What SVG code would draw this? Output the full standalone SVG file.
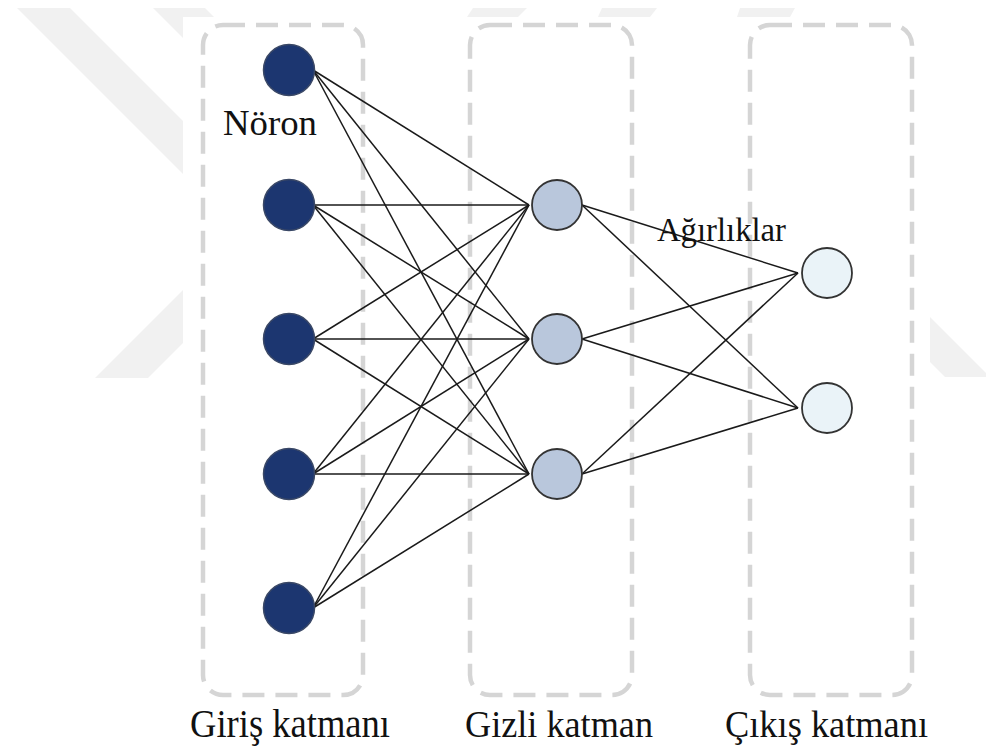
<svg xmlns="http://www.w3.org/2000/svg" width="986" height="751" viewBox="0 0 986 751">
<defs>
<style>
.wm{fill:#f1f1f1}
.box{fill:none;stroke:#d5d5d5;stroke-width:4.5;stroke-dasharray:22 11}
.edges line{stroke:#1a1a1a;stroke-width:1.5}
.in{fill:#1c3670;stroke:#3a4866;stroke-width:1.5}
.hid{fill:#b9c7dc;stroke:#333;stroke-width:1.8}
.out{fill:#eaf3f8;stroke:#333;stroke-width:1.8}
.t{fill:#111;font-family:'Liberation Serif','Times New Roman',serif}
</style>
</defs>
<rect width="986" height="751" fill="#ffffff"/>
<g id="watermark">
<polygon class="wm" points="17,8 70,8 260,198 207,198"/>
<polygon class="wm" points="153,8 205,8 400,203 348,203"/>
<polygon class="wm" points="95,378 148,378 300,226 247,226"/>
<polygon class="wm" points="473,8 527,8 518,17 467,17"/>
<polygon class="wm" points="602,8 657,8 650,17 598,17"/>
<polygon class="wm" points="740,8 795,8 790,17 737,17"/>
<polygon class="wm" points="800,187 990,377 945,377 800,232"/>
</g>
<rect x="183" y="17" width="747" height="734" fill="#ffffff"/>
<g id="layers">
<rect id="box-input" class="box" x="203" y="25" width="160" height="670" rx="20"/>
<rect id="box-hidden" class="box" x="470" y="25" width="162" height="670" rx="20"/>
<rect id="box-output" class="box" x="750" y="25" width="162" height="670" rx="20"/>
</g>
<g id="connectors" class="edges">
<line x1="313" y1="70" x2="529" y2="205"/>
<line x1="313" y1="70" x2="529" y2="339"/>
<line x1="313" y1="70" x2="529" y2="474"/>
<line x1="313" y1="205" x2="529" y2="205"/>
<line x1="313" y1="205" x2="529" y2="339"/>
<line x1="313" y1="205" x2="529" y2="474"/>
<line x1="313" y1="339" x2="529" y2="205"/>
<line x1="313" y1="339" x2="529" y2="339"/>
<line x1="313" y1="339" x2="529" y2="474"/>
<line x1="313" y1="474" x2="529" y2="205"/>
<line x1="313" y1="474" x2="529" y2="339"/>
<line x1="313" y1="474" x2="529" y2="474"/>
<line x1="313" y1="608" x2="529" y2="205"/>
<line x1="313" y1="608" x2="529" y2="339"/>
<line x1="313" y1="608" x2="529" y2="474"/>
<line x1="582" y1="205" x2="798" y2="273"/>
<line x1="582" y1="205" x2="798" y2="408"/>
<line x1="582" y1="339" x2="798" y2="273"/>
<line x1="582" y1="339" x2="798" y2="408"/>
<line x1="582" y1="474" x2="798" y2="273"/>
<line x1="582" y1="474" x2="798" y2="408"/>
</g>
<g id="in1"><circle class="in" cx="289" cy="70" r="25.5"/></g>
<g id="in2"><circle class="in" cx="289" cy="205" r="25.5"/></g>
<g id="in3"><circle class="in" cx="289" cy="339" r="25.5"/></g>
<g id="in4"><circle class="in" cx="289" cy="474" r="25.5"/></g>
<g id="in5"><circle class="in" cx="289" cy="608" r="25.5"/></g>
<g id="h1"><circle class="hid" cx="557" cy="205" r="25"/></g>
<g id="h2"><circle class="hid" cx="557" cy="339" r="25"/></g>
<g id="h3"><circle class="hid" cx="557" cy="474" r="25"/></g>
<g id="o1"><circle class="out" cx="827" cy="273" r="25"/></g>
<g id="o2"><circle class="out" cx="827" cy="408" r="25"/></g>
<g id="labels">
<text class="t" x="223" y="135" font-size="36" textLength="94" lengthAdjust="spacingAndGlyphs">Nöron</text>
<text class="t" x="657" y="241" font-size="33" textLength="129" lengthAdjust="spacingAndGlyphs">Ağırlıklar</text>
<text class="t" x="190" y="737" font-size="40" textLength="200" lengthAdjust="spacingAndGlyphs">Giriş katmanı</text>
<text class="t" x="465" y="737" font-size="38" textLength="188" lengthAdjust="spacingAndGlyphs">Gizli katman</text>
<text class="t" x="725" y="737" font-size="38" textLength="203" lengthAdjust="spacingAndGlyphs">Çıkış katmanı</text>
</g>
</svg>
